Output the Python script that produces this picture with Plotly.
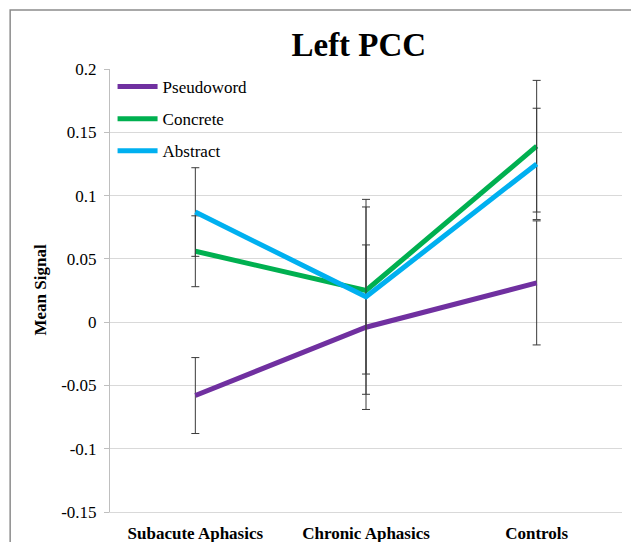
import plotly.graph_objects as go

groups = ["Subacute Aphasics", "Chronic Aphasics", "Controls"]

pseudoword = [-0.058, -0.004, 0.031]
pseudoword_err = [0.030, 0.065, 0.049]

concrete = [0.056, 0.025, 0.139]
concrete_err = [0.028, 0.066, 0.052]

abstract = [0.087, 0.020, 0.125]
abstract_err = [0.035, 0.077, 0.044]

y_ticks = [-0.15, -0.1, -0.05, 0, 0.05, 0.1, 0.15, 0.2]
y_tick_text = ["-0.15", "-0.1", "-0.05", "0", "0.05", "0.1", "0.15", "0.2"]

series = [
    ("Pseudoword", pseudoword, pseudoword_err, "#7030A0"),
    ("Concrete", concrete, concrete_err, "#00B050"),
    ("Abstract", abstract, abstract_err, "#00B0F0"),
]

SERIF = "Times New Roman, Liberation Serif, serif"

fig = go.Figure()
for i, (name, vals, errs, color) in enumerate(series):
    fig.add_trace(go.Scatter(
        x=groups, y=vals, name=name, mode="lines",
        legendgroup=f"g{i}",
        line=dict(color=color, width=5),
        error_y=dict(type="data", array=errs, visible=True,
                     color="#3a3a3a", thickness=1, width=4),
    ))

fig.update_layout(
    width=631, height=542,
    margin=dict(l=110, r=9, t=69, b=30),
    paper_bgcolor="white", plot_bgcolor="white",
    font=dict(family=SERIF, size=17, color="black"),
    title=dict(text="<b>Left PCC</b>", x=0.486, xref="paper",
               y=1 - 44 / 542, yanchor="middle",
               font=dict(family=SERIF, size=33, color="black")),
    showlegend=True,
    legend=dict(x=0.005, y=1.0, xanchor="left", yanchor="top",
                bgcolor="rgba(0,0,0,0)", traceorder="grouped",
                tracegroupgap=7, itemwidth=40,
                font=dict(family=SERIF, size=17, color="black")),
    xaxis=dict(showgrid=False, ticks="", showline=True, linecolor="#d9d9d9",
               linewidth=1, ticklabelstandoff=6, automargin=False,
               tickfont=dict(family=SERIF, size=17, color="black"),
               range=[-0.5, 2.5]),
    yaxis=dict(range=[-0.15, 0.2], tickvals=y_ticks, ticktext=y_tick_text,
               showgrid=True, gridcolor="#d9d9d9", gridwidth=1,
               zeroline=False, showline=True, linecolor="#bfbfbf",
               linewidth=1, ticks="outside", ticklen=5, tickcolor="#bfbfbf",
               ticklabelstandoff=4, automargin=False,
               tickfont=dict(family=SERIF, size=17, color="black")),
    shapes=[dict(type="rect", xref="paper", yref="paper",
                 x0=-0.195, x1=1.2, y0=-0.2, y1=1.133,
                 line=dict(color="#8c8c8c", width=1.5), layer="below")],
    annotations=[dict(text="<b>Mean Signal</b>", xref="paper", yref="paper",
                      x=(40 - 110) / 512, y=0.5, textangle=-90,
                      showarrow=False, xanchor="center", yanchor="middle",
                      font=dict(family=SERIF, size=17, color="black"))],
)

fig.update_xaxes(tickvals=groups, ticktext=[f"<b>{g}</b>" for g in groups])

fig.write_html("out.html")
